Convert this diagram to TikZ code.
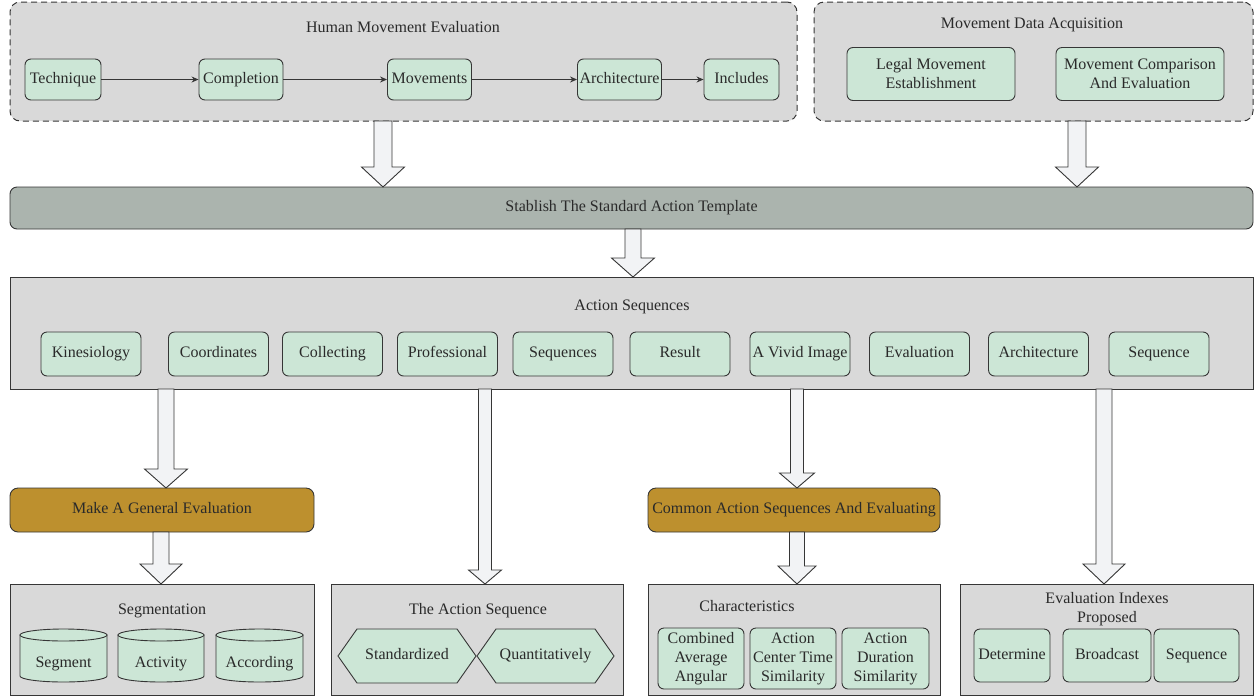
\documentclass[tikz,border=0pt]{standalone}
\usepackage{fontspec}
\setmainfont{Liberation Serif}
\usetikzlibrary{arrows.meta,calc}
\definecolor{boxgray}{HTML}{D9D9D9}
\definecolor{mint}{HTML}{CCE6D6}
\definecolor{tmplc}{HTML}{ABB4AE}
\definecolor{gold}{HTML}{BD902E}
\definecolor{arrfill}{HTML}{F2F3F5}
\definecolor{edge}{HTML}{363636}
\definecolor{txt}{HTML}{2A2A2A}
\tikzset{
 container/.style={draw=edge, fill=boxgray, line width=1pt, inner sep=0pt, outer sep=0pt},
 dashbox/.style={container, dash pattern=on 6pt off 4pt, rounded corners=10pt},
 one/.style={text height=11pt, text depth=3.7pt},
 itemm/.style={draw=edge, fill=mint, line width=0.9pt, rounded corners=6pt, inner sep=0pt, align=center, text=txt},
 item/.style={itemm, one},
 barbox/.style={draw=edge, line width=0.9pt, rounded corners=8pt, inner sep=0pt, text=txt, one},
 lblm/.style={inner sep=0pt, align=center, text=txt},
 lbl/.style={lblm, one},
 hollow/.style={draw=edge, fill=arrfill, line width=0.9pt, line join=miter},
 flow/.style={-{Stealth[length=7pt,width=6pt]}, draw=edge, line width=0.9pt},
 shapefill/.style={draw=edge, fill=mint, line width=0.9pt, line join=miter},
}
\newcommand\blockarrow[5]{%
\draw[hollow] let \p1=(#1), \p2=(#2) in
 (\x1-#3pt,\y1) -- (\x1+#3pt,\y1) -- (\x1+#3pt,\y2+#5pt) -- (\x1+#4pt,\y2+#5pt)
 -- (\x1,\y2) -- (\x1-#4pt,\y2+#5pt) -- (\x1-#3pt,\y2+#5pt) -- cycle;}
\begin{document}
\begin{tikzpicture}[x=1pt,y=-1pt,font=\fontsize{16}{19}\selectfont]
\useasboundingbox (0,0) rectangle (1258,697);

% ---------- top containers ----------
\node[dashbox, minimum width=787pt, minimum height=119pt] (hme) at (403.5,61.5) {};
\node[lbl] (hmet) at (403,29) {Human Movement Evaluation};
\node[item, minimum width=76pt, minimum height=41pt] (tech) at (63,79.5) {Technique};
\node[item, minimum width=84pt, minimum height=41pt] (comp) at (241,79.5) {Completion};
\node[item, minimum width=84pt, minimum height=41pt] (move) at (429.5,79.5) {Movements};
\node[item, minimum width=84pt, minimum height=41pt] (arch) at (619.5,79.5) {Architecture};
\node[item, minimum width=75pt, minimum height=41pt] (incl) at (741.5,79.5) {Includes};
\draw[flow] (tech) -- (comp);
\draw[flow] (comp) -- (move);
\draw[flow] (move) -- (arch);
\draw[flow] (arch) -- (incl);

\node[dashbox, minimum width=439pt, minimum height=119pt] (mda) at (1033.5,61.5) {};
\node[lbl] (mdat) at (1032,25) {Movement Data Acquisition};
\node[itemm, minimum width=168pt, minimum height=53pt] (legal) at (931,74) {Legal Movement\\Establishment};
\node[itemm, minimum width=168pt, minimum height=53pt] (mcae) at (1140,74) {Movement Comparison\\And Evaluation};

% ---------- template bar ----------
\node[barbox, fill=tmplc, rounded corners=7pt, minimum width=1243pt, minimum height=42pt] (tmpl) at (631.5,208) {Stablish The Standard Action Template};

% ---------- action sequences ----------
\node[container, minimum width=1243pt, minimum height=112pt] (acts) at (631.5,333) {};
\node[lbl] (actst) at (632,307) {Action Sequences};
\foreach \nm/\cx/\tx in {k1/91/Kinesiology, k2/218.5/Coordinates, k3/332.5/Collecting, k4/447.5/Professional, k5/563/Sequences, k6/680/Result, k7/800/A Vivid Image, k8/919.5/Evaluation, k9/1038.5/Architecture, k10/1159/Sequence}
  \node[item, minimum width=100pt, minimum height=44pt] (\nm) at (\cx,354) {\tx};

% ---------- middle bars ----------
\node[barbox, fill=gold, minimum width=304pt, minimum height=44pt] (mage) at (162,510) {Make A General Evaluation};
\node[barbox, fill=gold, minimum width=292pt, minimum height=44pt] (case) at (794,510) {Common Action Sequences And Evaluating};

% ---------- bottom containers ----------
\node[container, minimum width=304pt, minimum height=111pt] (segb) at (162,639.5) {};
\node[container, minimum width=292pt, minimum height=111pt] (asb) at (477,639.5) {};
\node[container, minimum width=292pt, minimum height=111pt] (chb) at (794,639.5) {};
\node[container, minimum width=293pt, minimum height=111pt] (evb) at (1106.5,639.5) {};

\node[lbl] (segt) at (162,611) {Segmentation};
\node[lbl] (ast) at (478,611) {The Action Sequence};
\node[lbl] (cht) at (747,608) {Characteristics};
\node[lblm] (evt) at (1107,609) {Evaluation Indexes\\Proposed};

% cylinders
\foreach \nm/\l/\r/\tx in {cy1/20/107/Segment, cy2/118/204/Activity, cy3/216/303/According}{
  \pgfmathsetmacro\rx{(\r-\l)/2}
  \pgfmathsetmacro\cx{(\r+\l)/2}
  \draw[shapefill] (\l,635) -- (\l,676) arc[start angle=180, end angle=360, x radius=\rx pt, y radius=6pt] -- (\r,635) -- cycle;
  \draw[shapefill] (\cx,635) ellipse[x radius=\rx pt, y radius=6pt];
  \node[lbl] (\nm) at (\cx,664) {\tx};
}

% hexagons
\draw[shapefill] (338,656) -- (357,629) -- (457,629) -- (476,656) -- (457,683) -- (357,683) -- cycle;
\node[lbl] (hx1) at (407,656) {Standardized};
\draw[shapefill] (477,656) -- (496,629) -- (595,629) -- (614,656) -- (595,683) -- (496,683) -- cycle;
\node[lbl] (hx2) at (545.5,656) {Quantitatively};

% characteristics items
\node[itemm, minimum width=86pt, minimum height=61pt] (ch1) at (701,658.5) {Combined\\Average\\Angular};
\node[itemm, minimum width=86pt, minimum height=61pt] (ch2) at (793,658.5) {Action\\Center Time\\Similarity};
\node[itemm, minimum width=87pt, minimum height=61pt] (ch3) at (885.5,658.5) {Action\\Duration\\Similarity};

% evaluation items
\node[item, minimum width=76pt, minimum height=53pt] (ev1) at (1012,655.5) {Determine};
\node[item, minimum width=88pt, minimum height=53pt] (ev2) at (1107,655.5) {Broadcast};
\node[item, minimum width=85pt, minimum height=53pt] (ev3) at (1196.5,655.5) {Sequence};

% ---------- block arrows ----------
\coordinate (a1s) at (383,121);  \coordinate (a1e) at (383,187);
\coordinate (a2s) at (1077,121); \coordinate (a2e) at (1077,187);
\coordinate (a3s) at (633,229);  \coordinate (a3e) at (633,277);
\coordinate (a4s) at (166,389);  \coordinate (a4e) at (166,488);
\coordinate (a5s) at (161,532);  \coordinate (a5e) at (161,584);
\coordinate (a6s) at (485,389);  \coordinate (a6e) at (485,584);
\coordinate (a7s) at (797,389);  \coordinate (a7e) at (797,488);
\coordinate (a8s) at (797,532);  \coordinate (a8e) at (797,584);
\coordinate (a9s) at (1104,389); \coordinate (a9e) at (1104,584);
\blockarrow{a1s}{a1e}{9}{21.5}{20}
\blockarrow{a2s}{a2e}{9}{21.5}{20}
\blockarrow{a3s}{a3e}{8}{21.5}{19}
\blockarrow{a4s}{a4e}{8}{21.5}{19}
\blockarrow{a5s}{a5e}{8}{21}{20}
\blockarrow{a6s}{a6e}{6.5}{16.5}{14}
\blockarrow{a7s}{a7e}{6.5}{17.5}{15}
\blockarrow{a8s}{a8e}{7.5}{19}{18}
\blockarrow{a9s}{a9e}{8}{21}{20}
\end{tikzpicture}
\end{document}
